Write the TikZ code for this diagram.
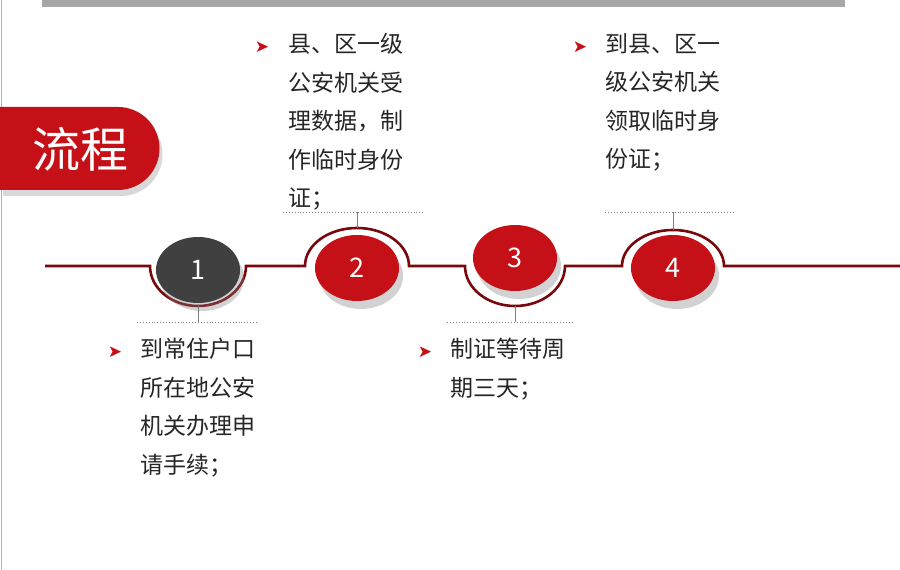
\documentclass[tikz,border=0pt]{standalone}
\usepackage{fontspec}
\setmainfont{Noto Sans CJK SC}
\newfontfamily\symfont{DejaVu Sans}
\usetikzlibrary{shadows,shapes.geometric}
\definecolor{tabred}{RGB}{196,16,22}
\definecolor{linered}{RGB}{120,8,12}
\definecolor{darkdisc}{RGB}{64,64,64}
\tikzset{disc/.style={ellipse, minimum width=84pt, minimum height=66pt, inner sep=0pt,
   text=white, font=\fontsize{27}{27}\selectfont, drop shadow={shadow xshift=4pt, shadow yshift=-8pt, opacity=0.35}}}
\tikzset{track/.style={draw=linered, line width=2.6pt}}
\tikzset{tick/.style={draw=gray, line width=0.8pt}}
\tikzset{dots/.style={draw=gray, line width=0.9pt, dotted}}
\tikzset{steptext/.style={anchor=north west, inner sep=0pt, align=left,
   font=\fontsize{23}{38.5}\selectfont, text=black!85}}
\tikzset{bullet/.style={text=tabred, font=\symfont\fontsize{17}{17}\selectfont, inner sep=0pt}}
\begin{document}
\begin{tikzpicture}[x=1pt,y=1pt]
  \useasboundingbox (0,0) rectangle (900,570);
  \fill[white] (0,0) rectangle (900,570);

  % frame bits
  \fill[black!35] (42,563) rectangle (845,570);
  \draw[black!30, line width=1pt] (1,0) -- (1,570);

  % title tab
  \fill[tabred, drop shadow={shadow xshift=3pt, shadow yshift=-6pt, opacity=0.3}]
    (0,380) -- (118,380) arc[start angle=-90, end angle=90, radius=41.5] -- (0,463) -- cycle;
  \node[text=white, font=\fontsize{48}{48}\selectfont] (title) at (80,421) {流程};

  % timeline
  \draw[track] (45,304) -- (150,304)
     arc[start angle=180, end angle=360, x radius=48, y radius=40] -- (305,304)
     arc[start angle=180, end angle=0, x radius=52, y radius=38] -- (465,304)
     arc[start angle=180, end angle=360, x radius=50, y radius=40] -- (622,304)
     arc[start angle=180, end angle=0, x radius=51, y radius=36] -- (900,304);

  % discs
  \node[disc, fill=darkdisc] (s1) at (198,300) {1};
  \node[disc, fill=tabred] (s2) at (357,302) {2};
  \node[disc, fill=tabred] (s3) at (515,312) {3};
  \node[disc, fill=tabred] (s4) at (673,302) {4};

  % ticks and dotted rules
  \coordinate (r1) at (198,248);
  \coordinate (r2) at (357,358);
  \coordinate (r3) at (515,248);
  \coordinate (r4) at (673,358);
  \draw[tick] (198,264) -- (r1);
  \draw[tick] (357,342) -- (r2);
  \draw[tick] (515,264) -- (r3);
  \draw[tick] (673,340) -- (r4);
  \draw[dots] (137,248) -- (258,248);
  \draw[dots] (283,358) -- (425,358);
  \draw[dots] (447,248) -- (573,248);
  \draw[dots] (605,358) -- (735,358);

  % texts
  \node[bullet] (b1) at (115,218) {➤};
  \node[steptext] (t1) at (140,232) {到常住户口\\所在地公安\\机关办理申\\请手续；};
  \node[bullet] (b2) at (262,523) {➤};
  \node[steptext] (t2) at (288,537) {县、区一级\\公安机关受\\理数据，制\\作临时身份\\证；};
  \node[bullet] (b3) at (425,218) {➤};
  \node[steptext] (t3) at (450,232) {制证等待周\\期三天；};
  \node[bullet] (b4) at (580,523) {➤};
  \node[steptext] (t4) at (605,537) {到县、区一\\级公安机关\\领取临时身\\份证；};
\end{tikzpicture}
\end{document}
